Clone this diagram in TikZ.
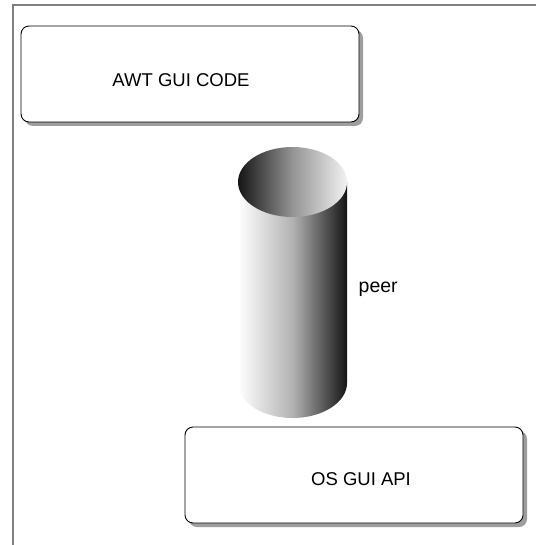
\documentclass[tikz,border=0pt]{standalone}
\usepackage{fontspec}
\setmainfont{Liberation Sans}
\begin{document}
\begin{tikzpicture}[x=1pt,y=-1pt,
  frameline/.style={draw=black!50,line width=2pt},
  layerbox/.style={draw=black,line width=0.9pt,fill=white,rounded corners=8pt},
  boxshadow/.style={fill=black!38,rounded corners=8pt},
  boxlabel/.style={font=\fontsize{18.5}{22}\selectfont,inner sep=0pt}]
  \useasboundingbox (0,0) rectangle (536,545);
  % outer frame: top and left edges only
  \draw[frameline] (12.5,545) -- (12.5,5.5) -- (536,5.5);

  % upper layer
  \fill[boxshadow] (25,30) rectangle (363,126);
  \draw[layerbox] (21,26) rectangle (359,122);
  \node[boxlabel] (awt) at (181,80) {AWT GUI CODE};

  % peer cylinder
  \def\cx{292.5}\def\rx{54.5}\def\ry{35}
  \shade[left color=white,right color=black!92,middle color=black!30,shading angle=90]
    (\cx-\rx,182) -- (\cx-\rx,383) arc[start angle=180,end angle=360,x radius=\rx,y radius=-\ry]
    -- (\cx+\rx,182) -- cycle;
  \shade[left color=black!92,right color=black!5,middle color=black!42]
    (\cx,182) ellipse[x radius=\rx,y radius=\ry];
  \node[boxlabel,font=\fontsize{19.5}{22}\selectfont,anchor=base west] (peer) at (358.5,292) {peer};

  % lower layer
  \fill[boxshadow] (189,431) rectangle (527,527);
  \draw[layerbox] (185,427) rectangle (523,523);
  \node[boxlabel] (os) at (361,479.5) {OS GUI API};
\end{tikzpicture}
\end{document}
